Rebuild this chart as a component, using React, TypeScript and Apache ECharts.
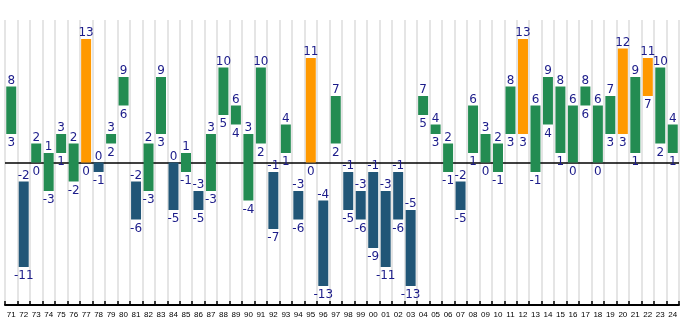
import React, { useEffect, useRef } from "react";
import * as echarts from "echarts";

const years = ["71","72","73","74","75","76","77","78","79","80","81","82","83","84","85","86","87","88","89","90","91","92","93","94","95","96","97","98","99","00","01","02","03","04","05","06","07","08","09","10","11","12","13","14","15","16","17","18","19","20","21","22","23","24"];
const lows = [3,-11,0,-3,1,-2,0,-1,2,6,-6,-3,3,-5,-1,-5,-3,5,4,-4,2,-7,1,-6,0,-13,2,-5,-6,-9,-11,-6,-13,5,3,-1,-5,1,0,-1,3,3,-1,4,1,0,6,0,3,3,1,7,2,1];
const highs = [8,-2,2,1,3,2,13,0,3,9,-2,2,9,0,1,-3,3,10,6,3,10,-1,4,-3,11,-4,7,-1,-3,-1,-3,-1,-5,7,4,2,-2,6,3,2,8,13,6,9,8,6,8,6,7,12,9,11,10,4];
const baseline = [0];

const GREEN = "#238c52";
const BLUE = "#215677";
const ORANGE = "#ff9900";
const LABEL = "#1c1c8a";

function colorFor(lo: number, hi: number) {
  if (hi >= 11) return ORANGE;
  if (hi <= 0) return BLUE;
  return GREEN;
}

export default function App() {
  const ref = useRef<HTMLDivElement>(null);
  useEffect(() => {
    if (!ref.current) return;
    const chart = echarts.init(ref.current, null, { renderer: "svg" });
    const data = years.map((y, i) => [i, lows[i], highs[i]]);
    chart.setOption({
      animation: false,
      grid: { left: 5, right: 6, top: 20, bottom: 25, containLabel: false },
      xAxis: {
        type: "category",
        data: years,
        boundaryGap: true,
        axisLine: { show: true, onZero: false, lineStyle: { color: "#000000", width: 2 } },
        axisTick: { show: true, inside: true, length: 4, interval: 0, lineStyle: { color: "#000000", width: 1.5 } },
        splitLine: { show: true, interval: 0, lineStyle: { color: "#dddddd", width: 1.5, type: "solid" } },
        axisLabel: { interval: 0, fontSize: 8, color: "#000", margin: 5, fontFamily: "Liberation Sans" },
      },
      yAxis: { type: "value", min: -15, max: 15, show: false, splitLine: { show: false } },
      series: [
        {
          type: "line",
          z: 1,
          data: [],
          silent: true,
          markLine: {
            z: 1,
            silent: true,
            symbol: ["none", "none"],
            label: { show: false },
            lineStyle: { color: "#000000", width: 1.5, type: "solid" },
            data: [{ yAxis: baseline[0] }],
          },
        },
        {
          type: "custom",
          z: 3,
          data,
          encode: { x: 0, y: [1, 2] },
          renderItem: (params: any, api: any) => {
            const i = api.value(0);
            const lo = api.value(1);
            const hi = api.value(2);
            const top = api.coord([i, hi]);
            const bot = api.coord([i, lo]);
            const w = api.size([1, 0])[0] * 0.8;
            const fill = colorFor(lo, hi);
            const font = "12px 'DejaVu Sans'";
            return {
              type: "group",
              children: [
                { type: "rect", shape: { x: top[0] - w / 2, y: top[1], width: w, height: bot[1] - top[1] }, style: { fill } },
                { type: "text", x: top[0], y: top[1] - 1, style: { text: String(hi), align: "center", verticalAlign: "bottom", fill: LABEL, font } },
                { type: "text", x: bot[0], y: bot[1] + 2, style: { text: String(lo), align: "center", verticalAlign: "top", fill: LABEL, font } },
              ],
            };
          },
        },
      ],
    });
    return () => chart.dispose();
  }, []);
  return <div ref={ref} style={{ position: "fixed", left: 0, top: 0, width: 685, height: 330 }} />;
}
